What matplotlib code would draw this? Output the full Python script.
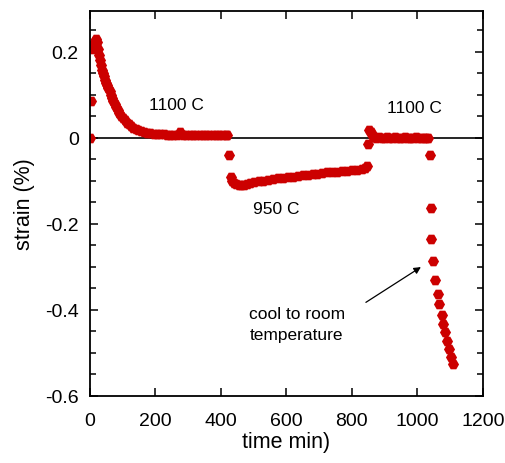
import numpy as np
import matplotlib
matplotlib.use('Agg')
import matplotlib.pyplot as plt
from matplotlib.ticker import MultipleLocator

plt.rcParams['font.family'] = ['Liberation Sans', 'DejaVu Sans']
plt.rcParams['axes.unicode_minus'] = False

# 1100 C hold: jump then decay to ~0
t_a = [0, 2, 8, 11, 14, 17, 20, 23, 26, 29, 32, 35, 38, 41, 44, 47, 50, 53, 56, 60,
       64, 68, 72, 76, 80, 85, 90, 95, 100, 106, 112, 118, 125, 132, 140, 148, 156, 165,
       175, 185, 195, 205, 215, 225, 235, 245, 255, 265, 275, 285, 295, 305, 315, 325,
       335, 345, 355, 365, 375, 385, 395, 405, 415, 420]
s_a = [0.0, 0.085, 0.205, 0.212, 0.218, 0.224, 0.229, 0.222, 0.205, 0.192, 0.180, 0.168,
       0.158, 0.150, 0.142, 0.134, 0.127, 0.121, 0.116, 0.108, 0.100, 0.092, 0.085, 0.078,
       0.071, 0.064, 0.057, 0.051, 0.046, 0.040, 0.035, 0.031, 0.027, 0.023, 0.020, 0.017,
       0.015, 0.013, 0.011, 0.010, 0.009, 0.008, 0.008, 0.008, 0.007, 0.007, 0.006, 0.006,
       0.012, 0.006, 0.005, 0.005, 0.005, 0.005, 0.005, 0.005, 0.005, 0.005, 0.005, 0.005,
       0.005, 0.005, 0.005, 0.005]

# 950 C hold
t_b = [426, 431, 435, 440, 447, 455, 463, 471, 480, 490, 500, 515, 530, 545, 560, 575,
       590, 605, 620, 635, 650, 665, 680, 695, 710, 725, 740, 755, 770, 785, 800, 815,
       830, 840, 846]
s_b = [-0.041, -0.092, -0.100, -0.106, -0.109, -0.111, -0.111, -0.110, -0.108, -0.106,
       -0.104, -0.102, -0.100, -0.098, -0.097, -0.095, -0.094, -0.092, -0.091, -0.089,
       -0.088, -0.086, -0.085, -0.084, -0.083, -0.081, -0.080, -0.079, -0.078, -0.077,
       -0.076, -0.075, -0.074, -0.071, -0.065]

# back to 1100 C, then cool down
t_c = [850, 853, 858, 863, 868, 875, 883, 891, 899, 907, 915, 923, 931, 939, 947, 955,
       963, 971, 979, 987, 995, 1003, 1011, 1019, 1027, 1032, 1038, 1042, 1043, 1049,
       1055, 1062, 1067, 1074, 1079, 1086, 1090, 1096, 1102, 1108]
s_c = [-0.015, 0.017, 0.012, 0.006, 0.002, 0.0, 0.001, -0.001, 0.0, 0.001, -0.001, 0.0,
       0.001, 0.0, -0.001, 0.0, 0.001, 0.0, -0.001, 0.0, 0.001, 0.0, -0.001, 0.0, 0.0,
       0.0, -0.041, -0.164, -0.236, -0.288, -0.330, -0.363, -0.386, -0.412, -0.433,
       -0.452, -0.472, -0.491, -0.510, -0.526]

time = np.array(t_a + t_b + t_c)
strain = np.array(s_a + s_b + s_c)

red = '#cc0000'

fig = plt.figure(figsize=(5.05, 4.64), dpi=100)
ax = fig.add_axes([0.178, 0.145, 0.778, 0.829])

ax.axhline(0, color='black', lw=1.2, zorder=1)
ax.plot(time, strain, linestyle='none', marker='H', ms=8, color=red,
        markeredgewidth=0, zorder=2)

ax.set_xlim(0, 1200)
ax.set_ylim(-0.6, 0.294)
ax.xaxis.set_major_locator(MultipleLocator(200))
ax.yaxis.set_minor_locator(MultipleLocator(0.05))
ax.set_yticks([-0.6, -0.4, -0.2, 0, 0.2])
ax.set_yticklabels(['-0.6', '-0.4', '-0.2', '0', '0.2'])

ax.tick_params(which='both', direction='in', top=True, right=True,
               labelsize=14, width=1.1)
ax.tick_params(axis='x', which='major', length=6, pad=12)
ax.tick_params(axis='y', which='major', length=6, pad=8)
ax.tick_params(which='minor', length=4)
for sp in ax.spines.values():
    sp.set_linewidth(1.3)

ax.set_xlabel('time min)', fontsize=15.5, labelpad=1)
ax.set_ylabel('strain (%)', fontsize=15.5, labelpad=7)

ax.text(264, 0.078, '1100 C', fontsize=12.5, ha='center', va='center')
ax.text(569, -0.166, '950 C', fontsize=12.5, ha='center', va='center')
ax.text(991, 0.071, '1100 C', fontsize=12.5, ha='center', va='center')
ax.text(487, -0.41, 'cool to room', fontsize=12.5, ha='left', va='center')
ax.text(487, -0.458, 'temperature', fontsize=12.5, ha='left', va='center')

ax.annotate('', xy=(1011, -0.301), xytext=(843, -0.383),
            arrowprops=dict(arrowstyle='-|>', color='black', lw=0.9,
                            mutation_scale=10, shrinkA=0, shrinkB=0))

fig.savefig('out.png', dpi=100)
